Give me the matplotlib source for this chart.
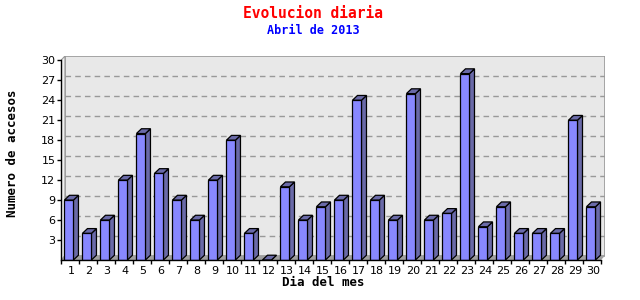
import matplotlib
matplotlib.use("Agg")
import matplotlib.pyplot as plt
from matplotlib.patches import Polygon, Rectangle

days = list(range(1, 31))
visits = [9, 4, 6, 12, 19, 13, 9, 6, 12, 18, 4, 0, 11, 6, 8,
          9, 24, 9, 6, 25, 6, 7, 28, 5, 8, 4, 4, 4, 21, 8]
yticks = [3, 6, 9, 12, 15, 18, 21, 24, 27, 30]

FRONT = "#8888ff"
SIDE = "#6a6aa8"
WALL = "#e8e8e8"
FLOOR = "#a0a0a0"
DX, DY = 0.22, 0.65    # wall depth in data units
BDX, BDY = 0.28, 0.72  # bar depth

fig = plt.figure(figsize=(6.4, 3.0), dpi=100)
ax = fig.add_axes([61 / 640, 40 / 300, 544 / 640, 204 / 300])
ax.set_xlim(0.5, 30.5 + DX)
ax.set_ylim(0, 30 + DY)
ax.set_facecolor("none")
for s in ax.spines.values():
    s.set_visible(False)

# back wall, left wall, floor
ax.add_patch(Rectangle((0.5 + DX, DY), 30, 30, facecolor=WALL,
                       edgecolor="#999999", lw=1.2, zorder=0))
ax.add_patch(Polygon([(0.5, 0), (0.5, 30), (0.5 + DX, 30 + DY), (0.5 + DX, DY)],
                     closed=True, facecolor="#f0f0f0", edgecolor="#999999",
                     lw=0.8, zorder=0))
ax.add_patch(Polygon([(0.5, 0), (30.5, 0), (30.5 + DX, DY), (0.5 + DX, DY)],
                     closed=True, facecolor=FLOOR, edgecolor="none", zorder=1))
for y in yticks[:-1]:
    ax.plot([0.5 + DX, 30.5 + DX], [y + DY, y + DY], color="#999999",
            lw=1, ls=(0, (4, 3)), zorder=1)

# bars
w = 0.5
off = -0.31
for d, v in zip(days, visits):
    x0 = d + off
    x1 = x0 + w
    ax.add_patch(Polygon([(x1, 0), (x1, v), (x1 + BDX, v + BDY), (x1 + BDX, BDY)],
                         closed=True, facecolor=SIDE, edgecolor="black",
                         lw=0.9, zorder=3))
    ax.add_patch(Polygon([(x0, v), (x1, v), (x1 + BDX, v + BDY), (x0 + BDX, v + BDY)],
                         closed=True, facecolor=SIDE, edgecolor="black",
                         lw=0.9, zorder=3))
    if v > 0:
        ax.bar(x0, v, width=w, align="edge", color=FRONT, edgecolor="black",
               lw=0.9, zorder=4)

# axis lines
ax.plot([0.5, 0.5], [0, 30], color="black", lw=1, zorder=5, clip_on=False)
ax.plot([0.5, 30.5], [0, 0], color="black", lw=1, zorder=5, clip_on=False)

ax.set_yticks(yticks)
ax.set_yticklabels([str(t) for t in yticks], fontsize=8, family="DejaVu Sans")
ax.tick_params(axis="y", length=3, width=1, pad=1)
ax.set_xticks([d + 0.06 for d in days])
ax.set_xticklabels([str(d) for d in days], fontsize=8, family="DejaVu Sans")
ax.set_xticks([d + 0.5 for d in range(0, 31)], minor=True)
ax.tick_params(axis="x", which="major", length=0, pad=4)
ax.tick_params(axis="x", which="minor", length=3, width=1)

mono = "DejaVu Sans Mono"
fig.text(313 / 640, 1 - 14 / 300, "Evolucion diaria", color="red",
         fontsize=10.5, family=mono, weight="bold", ha="center", va="center")
fig.text(313 / 640, 1 - 31 / 300, "Abril de 2013", color="blue",
         fontsize=8.5, family=mono, weight="bold", ha="center", va="center")
fig.text(13 / 640, 1 - 153 / 300, "Numero de accesos", rotation=90,
         fontsize=9, family=mono, weight="bold", ha="center", va="center")
fig.text(323 / 640, 1 - 282 / 300, "Dia del mes",
         fontsize=9, family=mono, weight="bold", ha="center", va="center")

fig.savefig("out.png", dpi=100, facecolor="white")
